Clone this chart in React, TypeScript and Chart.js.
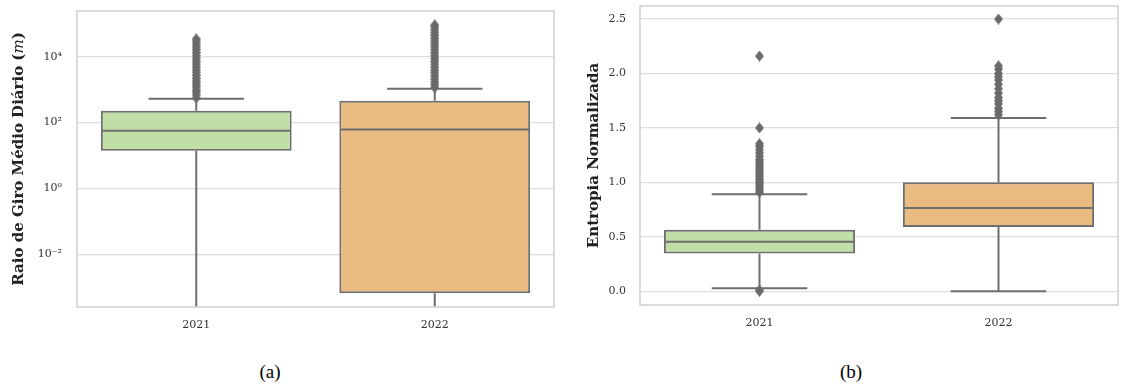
import { useEffect, useRef } from 'react';
import { Chart, registerables } from 'chart.js';

Chart.register(...registerables);

const categories = ['2021', '2022'];

// (a) Raio de giro médio diário — log scale
const radiusQ1 = [14, 0.00066];
const radiusMedian = [57, 62];
const radiusQ3 = [230, 460];
const radiusWhiskerLow = [0.00015, 0.00015];
const radiusWhiskerHigh = [530, 1070];
const radiusOutliers2021 = [
  560, 700, 850, 1000, 1250, 1500, 1800, 2200, 2700, 3300, 4000, 4900,
  6000, 7300, 9000, 11000, 13500, 16500, 20000, 24500, 30000, 35000,
];
const radiusOutliers2022 = [
  1150, 1400, 1700, 2100, 2600, 3200, 3900, 4800, 5900, 7200, 8800, 10800,
  13200, 16200, 19800, 24200, 29600, 36200, 44300, 54200, 66300, 81000, 93000,
];
const radiusTicks = [0.01, 1, 100, 10000];
const radiusTickLabels = ['10⁻²', '10⁰', '10²', '10⁴'];

// (b) Entropia normalizada — linear scale
const entropyQ1 = [0.345, 0.59];
const entropyMedian = [0.455, 0.764];
const entropyQ3 = [0.564, 1.0];
const entropyWhiskerLow = [0.027, 0.0];
const entropyWhiskerHigh = [0.89, 1.59];
const entropyOutliers2021 = [
  0.0, 0.01, 0.91, 0.93, 0.95, 0.97, 0.99, 1.01, 1.03, 1.05, 1.07, 1.09, 1.11,
  1.13, 1.15, 1.17, 1.19, 1.21, 1.24, 1.27, 1.3, 1.33, 1.355, 1.5, 2.16,
];
const entropyOutliers2022 = [
  1.62, 1.65, 1.68, 1.72, 1.75, 1.78, 1.82, 1.86, 1.9, 1.94, 1.97, 2.0, 2.04,
  2.07, 2.5,
];
const entropyTicks = [0, 0.5, 1.0, 1.5, 2.0, 2.5];
const entropyTickLabels = ['0.0', '0.5', '1.0', '1.5', '2.0', '2.5'];

const BOX_COLORS = ['#c0dfa6', '#e9bb80'];
const EDGE = '#6e6e6e';
const FLIER = '#6a6a6a';
const GRID = '#dddddd';
const FRAME = '#cfcfcf';
const TEXT = '#333333';
const SERIF = "'DejaVu Serif', serif";

function diamond(): HTMLCanvasElement {
  const c = document.createElement('canvas');
  c.width = 9;
  c.height = 11;
  const g = c.getContext('2d')!;
  g.fillStyle = FLIER;
  g.beginPath();
  g.moveTo(4.5, 0);
  g.lineTo(9, 5.5);
  g.lineTo(4.5, 11);
  g.lineTo(0, 5.5);
  g.closePath();
  g.fill();
  return c;
}

type Stats = {
  q1: number[];
  med: number[];
  q3: number[];
  lo: number[];
  hi: number[];
};

type TitlePart = { text: string; font: string };

function boxPlugin(s: Stats, title: TitlePart[], titleX: number) {
  return {
    id: 'boxWhiskers',
    beforeDatasetsDraw(chart: any) {
      const { ctx, chartArea, scales } = chart;
      const y = scales.y;
      const meta = chart.getDatasetMeta(0);
      ctx.save();
      ctx.beginPath();
      ctx.rect(chartArea.left, chartArea.top, chartArea.right - chartArea.left, chartArea.bottom - chartArea.top);
      ctx.clip();
      ctx.strokeStyle = EDGE;
      ctx.lineWidth = 2;
      meta.data.forEach((bar: any, i: number) => {
        const cx = bar.x;
        const capHalf = bar.width / 4;
        const yq1 = y.getPixelForValue(s.q1[i]);
        const yq3 = y.getPixelForValue(s.q3[i]);
        const ylo = y.getPixelForValue(s.lo[i]);
        const yhi = y.getPixelForValue(s.hi[i]);
        ctx.beginPath();
        ctx.moveTo(cx, yq3);
        ctx.lineTo(cx, yhi);
        ctx.moveTo(cx, yq1);
        ctx.lineTo(cx, ylo);
        ctx.moveTo(cx - capHalf, yhi);
        ctx.lineTo(cx + capHalf, yhi);
        ctx.moveTo(cx - capHalf, ylo);
        ctx.lineTo(cx + capHalf, ylo);
        ctx.stroke();
      });
      ctx.restore();
    },
    afterDatasetsDraw(chart: any) {
      const { ctx, chartArea, scales } = chart;
      const y = scales.y;
      const meta = chart.getDatasetMeta(0);
      ctx.save();
      ctx.strokeStyle = EDGE;
      ctx.lineWidth = 2;
      meta.data.forEach((bar: any, i: number) => {
        const half = bar.width / 2;
        const ym = y.getPixelForValue(s.med[i]);
        ctx.beginPath();
        ctx.moveTo(bar.x - half + 1, ym);
        ctx.lineTo(bar.x + half - 1, ym);
        ctx.stroke();
      });
      // plot frame
      ctx.strokeStyle = FRAME;
      ctx.lineWidth = 1.5;
      ctx.strokeRect(chartArea.left, chartArea.top, chartArea.right - chartArea.left, chartArea.bottom - chartArea.top);

      // rotated axis title
      ctx.fillStyle = '#222222';
      ctx.textBaseline = 'middle';
      ctx.textAlign = 'left';
      let total = 0;
      const widths = title.map((p) => {
        ctx.font = p.font;
        const w = ctx.measureText(p.text).width;
        total += w;
        return w;
      });
      ctx.translate(titleX, (chartArea.top + chartArea.bottom) / 2);
      ctx.rotate(-Math.PI / 2);
      let pos = -total / 2;
      title.forEach((p, i) => {
        ctx.font = p.font;
        ctx.fillText(p.text, pos, 0);
        pos += widths[i];
      });
      ctx.restore();
    },
  };
}

function BoxChart(props: {
  width: number;
  height: number;
  left: number;
  stats: Stats;
  outliers: number[][];
  logScale: boolean;
  yMin: number;
  yMax: number;
  ticks: number[];
  tickLabels: string[];
  padding: { top: number; right: number };
  yWidth: number;
  xHeight: number;
  title: TitlePart[];
  titleX: number;
  tickPad: number;
}) {
  const ref = useRef<HTMLCanvasElement>(null);
  useEffect(() => {
    const p = props;
    const marker = diamond();
    const boxes = categories.map((_, i) => [p.stats.q1[i], p.stats.q3[i]]);
    const fliers: { x: string; y: number }[] = [];
    p.outliers.forEach((vals, i) => vals.forEach((v) => fliers.push({ x: categories[i], y: v })));

    const chart = new Chart(ref.current!, {
      type: 'bar',
      data: {
        labels: categories,
        datasets: [
          {
            type: 'bar',
            data: boxes as any,
            backgroundColor: BOX_COLORS,
            borderColor: EDGE,
            borderWidth: 2,
            borderSkipped: false,
            categoryPercentage: 0.8,
            barPercentage: 1.0,
          },
          {
            type: 'line',
            data: fliers as any,
            showLine: false,
            pointStyle: marker as any,
            pointRadius: 5,
            borderColor: FLIER,
            backgroundColor: FLIER,
          },
        ],
      },
      options: {
        responsive: false,
        animation: false,
        events: [],
        devicePixelRatio: 1,
        layout: { padding: { top: p.padding.top, right: p.padding.right, left: 0, bottom: 0 } },
        plugins: { legend: { display: false }, tooltip: { enabled: false } },
        scales: {
          x: {
            type: 'category',
            grid: { display: false, drawTicks: false },
            border: { display: false },
            ticks: { color: TEXT, font: { family: SERIF, size: 11 }, padding: 12 },
            afterFit: (sc: any) => {
              sc.height = p.xHeight;
              sc.paddingLeft = 0;
              sc.paddingRight = 0;
            },
          },
          y: {
            type: p.logScale ? 'logarithmic' : 'linear',
            min: p.yMin,
            max: p.yMax,
            grid: { color: GRID, lineWidth: 1.3, drawTicks: false },
            border: { display: false },
            ticks: {
              color: TEXT,
              font: { family: SERIF, size: 11 },
              padding: p.tickPad,
              autoSkip: false,
              callback: (v: any) => {
                const idx = p.ticks.findIndex((t) => Math.abs(t - Number(v)) <= Math.abs(t) * 1e-6 + 1e-9);
                return idx >= 0 ? p.tickLabels[idx] : '';
              },
            },
            afterBuildTicks: (sc: any) => {
              sc.ticks = p.ticks.map((v) => ({ value: v }));
            },
            afterFit: (sc: any) => {
              sc.width = p.yWidth;
              sc.paddingTop = 0;
              sc.paddingBottom = 0;
            },
          } as any,
        },
      },
      plugins: [boxPlugin(p.stats, p.title, p.titleX)],
    });
    return () => chart.destroy();
  }, []);
  return (
    <canvas
      ref={ref}
      width={props.width}
      height={props.height}
      style={{ position: 'absolute', left: props.left, top: 0, width: props.width, height: props.height }}
    />
  );
}

export default function App() {
  const captionStyle = (cx: number): any => ({
    position: 'absolute',
    left: cx - 30,
    width: 60,
    top: 360,
    textAlign: 'center',
    fontFamily: "'Liberation Serif', 'Times New Roman', serif",
    fontSize: 19,
    color: '#000',
    lineHeight: '24px',
  });
  return (
    <div style={{ position: 'fixed', left: 0, top: 0, width: 1124, height: 385, background: '#fff', overflow: 'hidden' }}>
      <BoxChart
        width={560}
        height={340}
        left={0}
        stats={{ q1: radiusQ1, med: radiusMedian, q3: radiusQ3, lo: radiusWhiskerLow, hi: radiusWhiskerHigh }}
        outliers={[radiusOutliers2021, radiusOutliers2022]}
        logScale={true}
        yMin={Math.pow(10, -3.6)}
        yMax={Math.pow(10, 5.39)}
        ticks={radiusTicks}
        tickLabels={radiusTickLabels}
        padding={{ top: 11, right: 3 }}
        yWidth={77}
        xHeight={33}
        titleX={19}
        tickPad={15}
        title={[
          { text: 'Raio de Giro Médio Diário (', font: `bold 15px ${SERIF}` },
          { text: 'm', font: `italic 15px ${SERIF}` },
          { text: ')', font: `bold 15px ${SERIF}` },
        ]}
      />
      <BoxChart
        width={564}
        height={340}
        left={560}
        stats={{ q1: entropyQ1, med: entropyMedian, q3: entropyQ3, lo: entropyWhiskerLow, hi: entropyWhiskerHigh }}
        outliers={[entropyOutliers2021, entropyOutliers2022]}
        logScale={false}
        yMin={-0.127}
        yMax={2.62}
        ticks={entropyTicks}
        tickLabels={entropyTickLabels}
        padding={{ top: 3, right: 1 }}
        yWidth={80}
        xHeight={35}
        titleX={34}
        tickPad={14}
        title={[{ text: 'Entropia Normalizada', font: `bold 15px ${SERIF}` }]}
      />
      <div style={captionStyle(270)}>(a)</div>
      <div style={captionStyle(851)}>(b)</div>
    </div>
  );
}
